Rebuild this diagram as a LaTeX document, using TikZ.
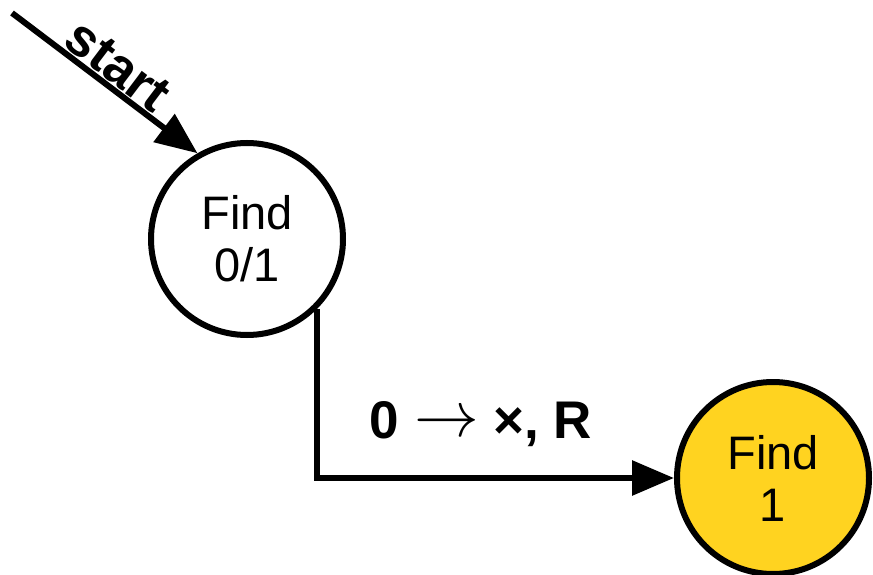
\documentclass[tikz,border=0pt]{standalone}
\usepackage{fontspec}
\setmainfont{Liberation Sans}
\usetikzlibrary{arrows.meta}
\definecolor{goldfill}{HTML}{FFD320}
\begin{document}
\begin{tikzpicture}[x=1pt,y=-1pt,
  state/.style={circle,draw=black,line width=6pt,minimum size=192pt,inner sep=0pt,
    font=\fontsize{47}{52}\selectfont,align=center},
  conn/.style={line width=6pt,-{Triangle[length=42pt,width=34pt]}},
  lbl/.style={font=\fontsize{53}{58}\selectfont\bfseries}]
\useasboundingbox (0,0) rectangle (873,575);
\node[state,fill=white] (f1) at (247,239) {Find\\0/1};
\node[state,fill=goldfill] (f2) at (773,478) {Find\\1};
\coordinate (s) at (12,13);
\draw[conn] (s) -- node[lbl,pos=0.5,above,sloped,inner sep=1pt]{start} (f1.120);
\draw[conn] (f1.-45) |- (f2.west);
\node[lbl] (lab) at (481,424) {0 \raisebox{2pt}{\scalebox{2.6}{$\rightarrow$}} ×, R};
\end{tikzpicture}
\end{document}
